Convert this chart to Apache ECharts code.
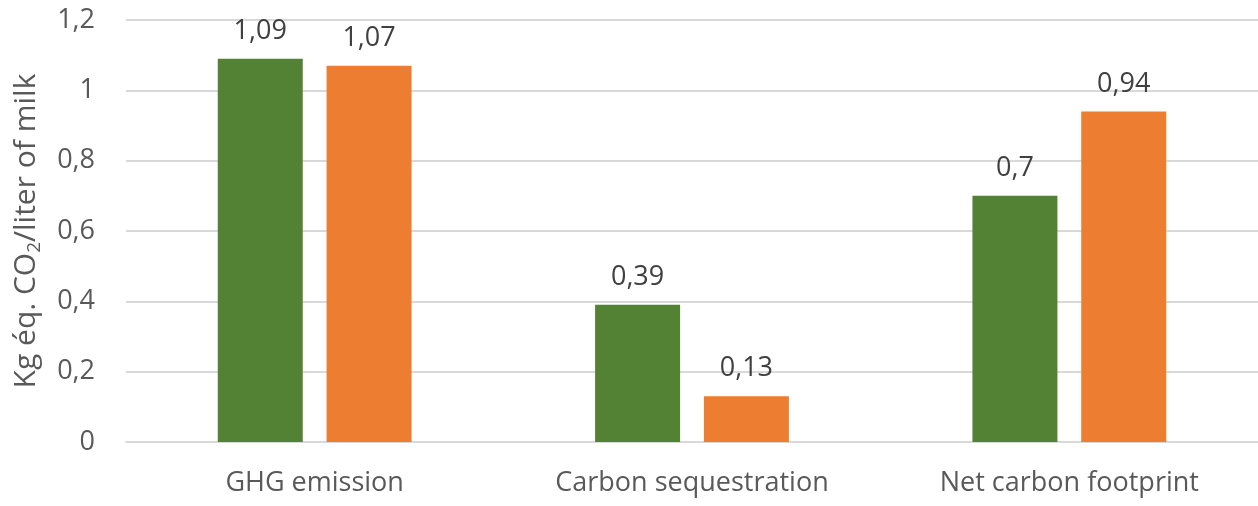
<!DOCTYPE html>
<html>
<head>
<meta charset="utf-8">
<script src="https://cdn.jsdelivr.net/npm/echarts@6/dist/echarts.min.js"></script>
<style>
  html, body { margin: 0; padding: 0; background: #fff; }
  #chart { width: 1258px; height: 506px; }
</style>
</head>
<body>
<div id="chart"></div>
<script>
// datos del gráfico
const categories = ['GHG emission', 'Carbon sequestration', 'Net carbon footprint'];
const greenValues = [1.09, 0.39, 0.7];
const orangeValues = [1.07, 0.13, 0.94];
const yTicks = [0, 0.2, 0.4, 0.6, 0.8, 1, 1.2];

const FONT = '"Open Sans", "Noto Sans", sans-serif';
const TXT = '#595959';

function comma(v) { return String(v).replace('.', ','); }

const chart = echarts.init(document.getElementById('chart'));

const labelCfg = {
    show: true, position: 'top', distance: 14,
    color: '#404040', fontFamily: FONT, fontSize: 27,
    formatter: p => comma(p.value)
};

chart.setOption({
    animation: false,
    grid: { left: 126, right: 0, top: 20, bottom: 64 },
    xAxis: {
        type: 'category',
        data: categories,
        axisLine: { show: true, lineStyle: { color: '#d9d9d9', width: 2 } },
        axisTick: { show: false },
        axisLabel: { color: TXT, fontFamily: FONT, fontSize: 27, margin: 28 }
    },
    yAxis: {
        type: 'value',
        min: yTicks[0], max: yTicks[yTicks.length - 1], interval: 0.2,
        axisLine: { show: false },
        axisTick: { show: false },
        splitLine: { lineStyle: { color: '#d9d9d9', width: 2 } },
        axisLabel: {
            color: TXT, fontFamily: FONT, fontSize: 27, margin: 31,
            formatter: v => comma(Math.round(v * 10) / 10)
        },
        name: '{a|Kg éq. CO}{s|2}{a|/liter of milk}',
        nameLocation: 'middle',
        nameGap: 82,
        nameTextStyle: {
            rich: {
                a: { color: TXT, fontFamily: FONT, fontSize: 30 },
                s: { color: TXT, fontFamily: FONT, fontSize: 19, verticalAlign: 'bottom', padding: [16, 0, 0, 0] }
            }
        }
    },
    series: [
        { type: 'bar', data: greenValues, barWidth: 85, barGap: '28%',
          itemStyle: { color: '#548235' }, label: labelCfg },
        { type: 'bar', data: orangeValues, barWidth: 85, barGap: '28%',
          itemStyle: { color: '#ED7D31' }, label: labelCfg }
    ]
});
</script>
</body>
</html>
